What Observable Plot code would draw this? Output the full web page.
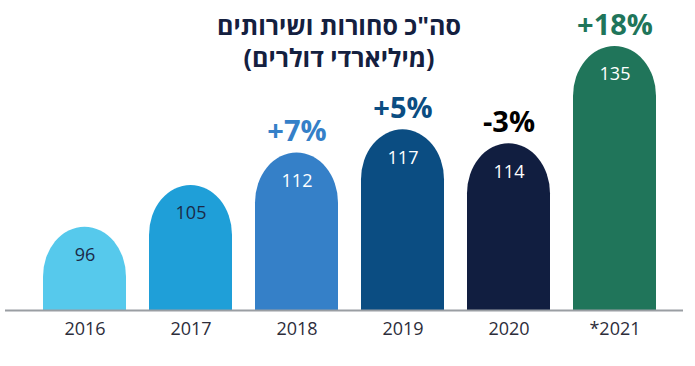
<!DOCTYPE html>
<html>
<head>
<meta charset="utf-8">
<script src="https://cdn.jsdelivr.net/npm/d3@7"></script>
<script src="https://cdn.jsdelivr.net/npm/@observablehq/plot@0.6"></script>
<style>
  html, body { margin: 0; padding: 0; background: #fff; }
  #wrap { position: relative; width: 695px; height: 366px; font-family: "Open Sans", "Liberation Sans", sans-serif; }
  #title { position: absolute; left: 0; top: 9px; width: 678px; text-align: center; direction: rtl;
           font-weight: 700; font-size: 25px; line-height: 32px; color: #14203f; }
</style>
</head>
<body>
<div id="wrap"><div id="chart"></div><div id="title"></div></div>
<script>
const years = ["2016", "2017", "2018", "2019", "2020", "*2021"];
const values = [96, 105, 112, 117, 114, 135];
const changes = [null, null, "+7%", "+5%", "-3%", "+18%"];
const barColors = ["#56c9ec", "#1f9fd8", "#3580c8", "#0b4d82", "#111e40", "#20755a"];
const valueColors = ["#1b2a47", "#1b2a47", "#ffffff", "#ffffff", "#ffffff", "#ffffff"];
const changeColors = [null, null, "#3580c8", "#0b4d82", "#000000", "#20755a"];
const titleLines = ["סה\"כ סחורות ושירותים", "(מיליארדי דולרים)"];

const data = years.map((year, i) => ({
  year, value: values[i], change: changes[i],
  color: barColors[i], valueColor: valueColors[i], changeColor: changeColors[i]
}));

document.getElementById("title").innerHTML = titleLines.map(t => `<div>${t}</div>`).join("");

const yMin = 78;
const chart = Plot.plot({
  width: 695,
  height: 366,
  marginTop: 46,
  marginBottom: 56,
  marginLeft: 17,
  marginRight: 13,
  style: { fontFamily: "Open Sans, sans-serif", fontSize: "18px", color: "#2d2d3a", background: "#fff" },
  x: { domain: years, padding: 0.22, tickSize: 0, tickPadding: 12, label: null },
  y: { domain: [yMin, 135], axis: null },
  color: { type: "identity" },
  marks: [
    Plot.barY(data, { x: "year", y: "value", fill: "color", rx: 50, clip: true }),
    Plot.ruleY([yMin], { stroke: "#9a9ea3", strokeWidth: 2, insetLeft: -12, insetRight: -1 }),
    Plot.text(data, { x: "year", y: "value", text: d => String(d.value), fill: "valueColor", dy: 28, fontSize: 18 }),
    Plot.text(data.filter(d => d.change), { x: "year", y: "value", text: "change", fill: "changeColor", dy: -21, fontSize: 29, fontWeight: "bold" })
  ]
});
document.getElementById("chart").appendChild(chart);
</script>
</body>
</html>
